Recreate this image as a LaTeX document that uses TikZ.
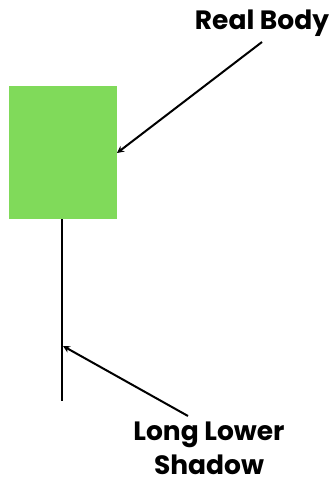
\documentclass[tikz,border=0pt]{standalone}
\usepackage{fontspec}
\newfontfamily\labelfont{Poppins}[UprightFont=* Bold]
\usetikzlibrary{arrows.meta}
\definecolor{bodygreen}{RGB}{128,218,90}
\tikzset{
  lbl/.style={font=\labelfont\fontsize{26.5}{34}\selectfont, align=center, inner sep=0pt},
  pointer/.style={line width=2pt, -{Stealth[length=7pt,width=7pt]}},
}
\begin{document}
\begin{tikzpicture}[x=1pt,y=-1pt]
\useasboundingbox (0,0) rectangle (331,479);
\fill[bodygreen] (9,86) rectangle (117,219);
\coordinate (wtop) at (62,219);
\coordinate (wbot) at (62,401);
\draw[line width=2pt] (wtop) -- (wbot);
\node[lbl] (rb) at (262,23) {Real Body};
\coordinate (rbtip) at (117,153);
\coordinate (rbstart) at (262,42);
\draw[pointer] (rbstart) -- (rbtip);
\node[lbl] (ls) at (209,448) {Long Lower\\Shadow};
\coordinate (lsstart) at (188,416);
\coordinate (lstip) at (63,346);
\draw[pointer] (lsstart) -- (lstip);
\end{tikzpicture}
\end{document}
